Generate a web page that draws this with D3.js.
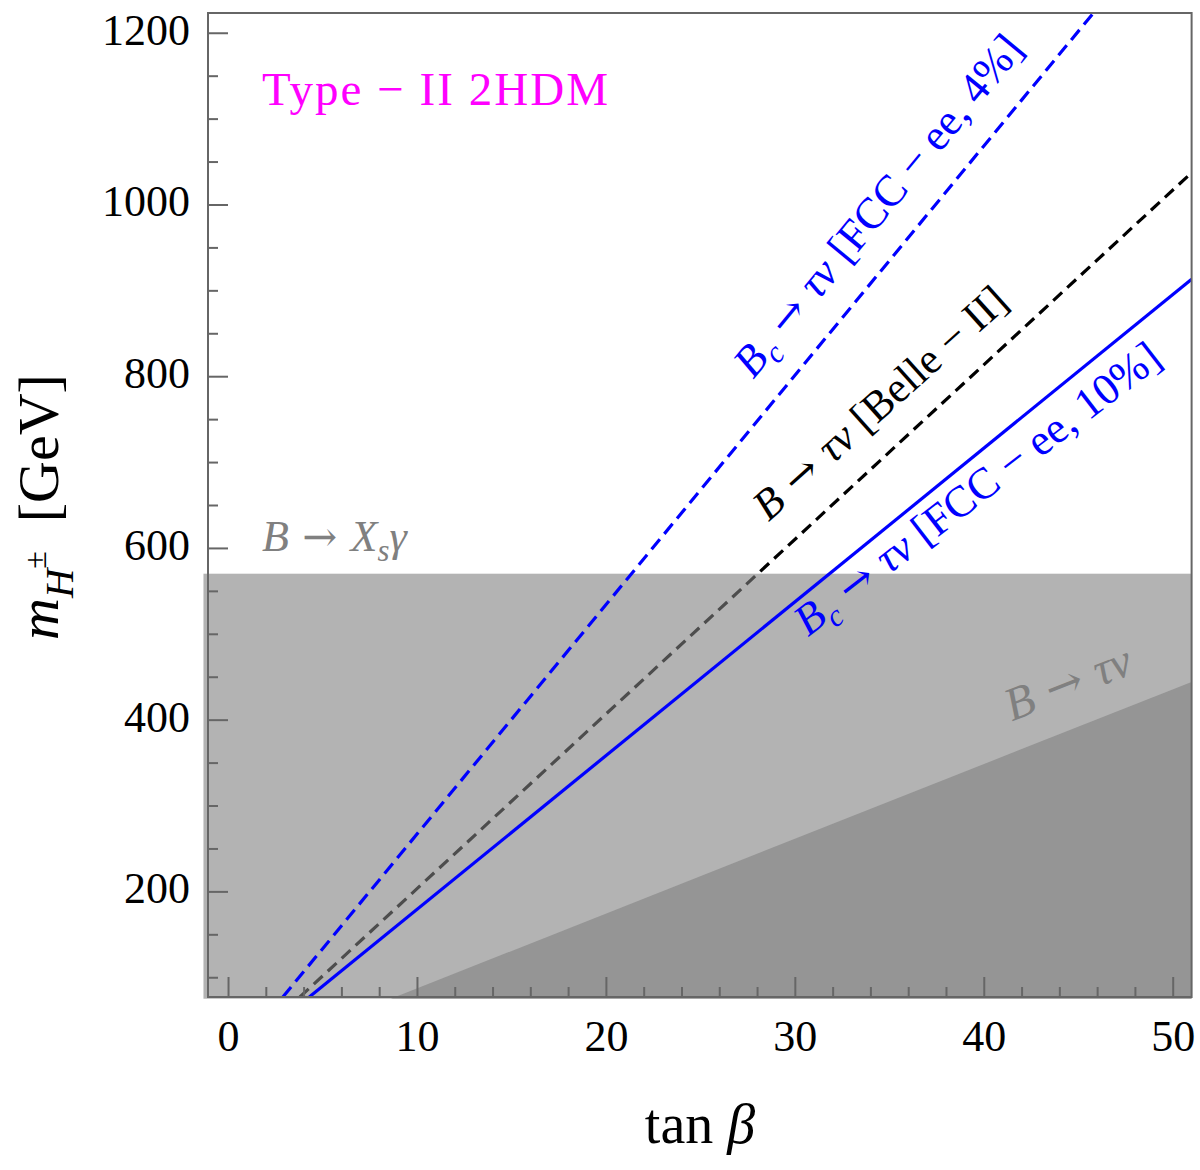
<!DOCTYPE html>
<html>
<head>
<meta charset="utf-8">
<script src="https://cdn.jsdelivr.net/npm/d3@7"></script>
<style>
    html, body { margin: 0; padding: 0; background: #fff; }
    svg { display: block; font-family: "Liberation Serif", "DejaVu Serif", serif; }
</style>
</head>
<body>
<div id="chart"></div>
<script>
'use strict';

// values
const xMajorTicks = [0, 10, 20, 30, 40, 50];
const xMinorTicks = [2, 4, 6, 8, 12, 14, 16, 18, 22, 24, 26, 28, 32, 34, 36, 38, 42, 44, 46, 48];
const yMajorTicks = [200, 400, 600, 800, 1000, 1200];
const yMinorTicks = [100, 150, 250, 300, 350, 450, 500, 550, 650, 700, 750, 850, 900, 950, 1050, 1100, 1150];

// bounds in the (tan beta, m_H) plane, endpoints of each line
const fcc4TanBeta = [2.9, 45.8];
const fcc4Mass = [77, 1223];
const belleTanBeta = [3.8, 51];
const belleMass = [77, 1037];
const fcc10TanBeta = [4.3, 51];
const fcc10Mass = [77, 913];
const btaunuTanBeta = [8.62, 51, 51];
const btaunuMass = [75, 444, 75];
const bxsgammaMass = 570;

(function(doc) {

    const width = 1200;
    const height = 1170;
    const left = 208, right = 1191.6, top = 13, bottom = 997;
    const frameColor = '#666666';
    const blue = '#0000ff';
    const arrowFont = '"DejaVu Serif", serif';

    const svg = d3.select('#chart').append('svg')
        .attr('width', width)
        .attr('height', height);

    const x = d3.scaleLinear().domain([-1.06, 51]).range([left, right]);
    const y = d3.scaleLinear().domain([77, 1223]).range([bottom, top]);

    svg.append('defs').append('clipPath').attr('id', 'plotClip')
        .append('rect')
        .attr('x', left).attr('y', top)
        .attr('width', right - left).attr('height', bottom - top);

    const toPoints = (tbs, ms) => tbs.map((tb, i) => [tb, ms[i]]);
    const line = d3.line().x(d => x(d[0])).y(d => y(d[1]));

    const addRich = (g, parts, fontSize) => {
        const text = g.append('text').attr('font-size', fontSize);
        let shift = 0;
        for (const p of parts) {
            const span = text.append('tspan').text(p.t);
            if (p.it) span.attr('font-style', 'italic');
            if (p.f) span.attr('font-family', p.f);
            span.attr('font-size', fontSize * (p.s || 1));
            const target = (p.dy || 0) * fontSize;
            span.attr('dy', target - shift);
            shift = target;
        }
        return text;
    };

    const arrow = {t: ' → ', f: arrowFont, s: 0.95};

    const lineAngle = (tbs, ms) => {
        const dx = x(tbs[1]) - x(tbs[0]);
        const dy = y(ms[1]) - y(ms[0]);
        return Math.atan2(dy, dx) * 180 / Math.PI;
    };

    // Belle II line sits under the shading
    svg.append('g').attr('clip-path', 'url(#plotClip)')
        .append('path')
        .attr('d', line(toPoints(belleTanBeta, belleMass)))
        .attr('fill', 'none')
        .attr('stroke', '#000')
        .attr('stroke-width', 3.2)
        .attr('stroke-dasharray', '12,7');

    // B -> Xs gamma excluded region (runs a little past the frame, left and bottom)
    svg.append('rect')
        .attr('x', x(-1.3))
        .attr('y', y(bxsgammaMass))
        .attr('width', right - x(-1.3))
        .attr('height', y(75) - y(bxsgammaMass))
        .attr('fill', '#808080')
        .attr('fill-opacity', 0.6);

    // B -> tau nu excluded region
    svg.append('path')
        .attr('d', line(toPoints(btaunuTanBeta, btaunuMass)) + 'Z')
        .attr('fill', '#808080')
        .attr('fill-opacity', 0.6);

    const front = svg.append('g').attr('clip-path', 'url(#plotClip)');

    front.append('path')
        .attr('d', line(toPoints(fcc4TanBeta, fcc4Mass)))
        .attr('fill', 'none')
        .attr('stroke', blue)
        .attr('stroke-width', 3.2)
        .attr('stroke-dasharray', '13,7');

    front.append('path')
        .attr('d', line(toPoints(fcc10TanBeta, fcc10Mass)))
        .attr('fill', 'none')
        .attr('stroke', blue)
        .attr('stroke-width', 3.2);

    // texts
    const labels = svg.append('g');

    addRich(labels, [{t: 'Type − II 2HDM'}], 47)
        .attr('x', x(1.8)).attr('y', y(1116))
        .attr('textLength', 346)
        .attr('fill', '#ff00ff');

    addRich(labels, [
        {t: 'B', it: true}, arrow, {t: 'X', it: true},
        {t: 's', it: true, s: 0.7, dy: 0.22}, {t: 'γ', it: true}
    ], 44)
        .attr('x', x(1.8)).attr('y', y(596))
        .attr('fill', '#808080');

    const rotated = (parts, size, color, tb, m, angle) => {
        const g = labels.append('g')
            .attr('transform', `translate(${x(tb)},${y(m)}) rotate(${angle})`);
        addRich(g, parts, size).attr('fill', color);
    };

    const bcParts = (tail) => [
        {t: 'B', it: true}, {t: 'c', it: true, s: 0.7, dy: 0.22},
        arrow, {t: 'τν', it: true}, {t: tail}
    ];

    rotated(bcParts(' [FCC − ee, 4%]'), 44, blue, 27.8, 796,
        lineAngle(fcc4TanBeta, fcc4Mass));
    rotated([{t: 'B', it: true}, arrow, {t: 'τν', it: true}, {t: ' [Belle − II]'}],
        43, '#000', 28.6, 630, lineAngle(belleTanBeta, belleMass) + 0.8);
    rotated(bcParts(' [FCC − ee, 10%]'), 44, blue, 30.7, 496,
        lineAngle(fcc10TanBeta, fcc10Mass) + 1.5);
    rotated([{t: 'B', it: true}, arrow, {t: 'τν', it: true}],
        47, '#808080', 41.5, 398, lineAngle([btaunuTanBeta[0], btaunuTanBeta[1]],
            [btaunuMass[0], btaunuMass[1]]));

    // frame and ticks
    svg.append('rect')
        .attr('x', left).attr('y', top)
        .attr('width', right - left).attr('height', bottom - top)
        .attr('fill', 'none')
        .attr('stroke', frameColor)
        .attr('stroke-width', 2);

    const styleAxis = (g) => {
        g.select('.domain').remove();
        g.selectAll('line').attr('stroke', frameColor).attr('stroke-width', 2);
        g.selectAll('text').attr('fill', '#000').attr('font-size', 44)
            .attr('font-family', '"Liberation Serif", "DejaVu Serif", serif');
    };

    svg.append('g')
        .attr('transform', `translate(0,${bottom})`)
        .call(d3.axisBottom(x).tickValues(xMajorTicks).tickSize(-20).tickPadding(23)
            .tickFormat(d3.format('d')))
        .call(styleAxis);
    svg.append('g')
        .attr('transform', `translate(0,${bottom})`)
        .call(d3.axisBottom(x).tickValues(xMinorTicks).tickSize(-10).tickFormat(''))
        .call(styleAxis);

    svg.append('g')
        .attr('transform', `translate(${left},0)`)
        .call(d3.axisLeft(y).tickValues(yMajorTicks).tickSize(-20).tickPadding(18)
            .tickFormat(d3.format('d')))
        .call(styleAxis)
        .selectAll('text').attr('dy', '0.26em');
    svg.append('g')
        .attr('transform', `translate(${left},0)`)
        .call(d3.axisLeft(y).tickValues(yMinorTicks).tickSize(-10).tickFormat(''))
        .call(styleAxis);

    // axis titles
    addRich(svg, [{t: 'tan '}, {t: 'β', it: true}], 56)
        .attr('x', 700).attr('y', 1143)
        .attr('text-anchor', 'middle');

    const yTitle = svg.append('g').attr('transform', 'translate(58,507) rotate(-90)');
    addRich(yTitle, [
        {t: 'm', it: true}, {t: 'H', it: true, s: 0.7, dy: 0.25},
        {t: '±', s: 0.55, dy: -0.2}, {t: '  [GeV]', dy: 0}
    ], 58).attr('text-anchor', 'middle').attr('xml:space', 'preserve');

}(document));
</script>
</body>
</html>
